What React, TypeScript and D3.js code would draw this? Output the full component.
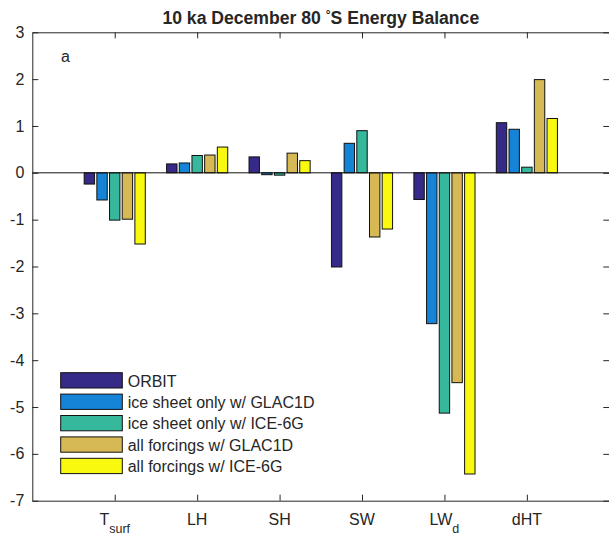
import * as d3 from "d3";
import React, { useEffect, useRef } from "react";

// categories on the x axis (main text + subscript)
const categories = ["T", "LH", "SH", "SW", "LW", "dHT"];
const categorySubs = ["surf", "", "", "", "d", ""];

const seriesNames = [
  "ORBIT",
  "ice sheet only w/ GLAC1D",
  "ice sheet only w/ ICE-6G",
  "all forcings w/ GLAC1D",
  "all forcings w/ ICE-6G",
];
const seriesColors = ["#352a87", "#1584d6", "#35b89c", "#d6b855", "#f8f90f"];

// values, one array per series
const orbit = [-0.24, 0.19, 0.34, -2.01, -0.57, 1.07];
const glac1d = [-0.58, 0.21, -0.04, 0.63, -3.22, 0.93];
const ice6g = [-1.01, 0.37, -0.05, 0.9, -5.13, 0.12];
const allGlac1d = [-0.99, 0.38, 0.42, -1.37, -4.48, 1.99];
const allIce6g = [-1.52, 0.55, 0.26, -1.2, -6.43, 1.16];
const seriesValues = [orbit, glac1d, ice6g, allGlac1d, allIce6g];

const yTicks = [3, 2, 1, 0, -1, -2, -3, -4, -5, -6, -7];

const FONT = "'Liberation Sans', Arial, Helvetica, sans-serif";
const INK = "#262626";

const EnergyBalanceChart: React.FC = () => {
  const svgRef = useRef<SVGSVGElement>(null);

  useEffect(() => {
    if (!svgRef.current) return;
    const width = 609;
    const height = 536;
    const left = 32.3;
    const right = 609.3;
    const top = 32.3;
    const bottom = 500.7;

    const svg = d3.select(svgRef.current);
    svg.selectAll("*").remove();
    svg.attr("width", width).attr("height", height).style("display", "block");

    const x = d3.scaleLinear().domain([0, 7]).range([left, right]);
    const y = d3.scaleLinear().domain([-7, 3]).range([bottom, top]);

    // grouped bar geometry (matlab style: 5 bars per group)
    const nSeries = seriesValues.length;
    const groupWidth = Math.min(0.8, nSeries / (nSeries + 1.5));
    const slot = groupWidth / nSeries;
    const barW = slot * 0.82;

    seriesValues.forEach((vals, si) => {
      svg
        .append("g")
        .selectAll("rect")
        .data(vals)
        .join("rect")
        .attr("x", (_, ci) => x(ci + 1 + (si - (nSeries - 1) / 2) * slot - barW / 2))
        .attr("width", x(barW) - x(0))
        .attr("y", (d) => y(Math.max(0, d)))
        .attr("height", (d) => Math.abs(y(d) - y(0)))
        .attr("fill", seriesColors[si])
        .attr("stroke", "#111")
        .attr("stroke-width", 1);
    });

    // zero baseline
    svg
      .append("line")
      .attr("x1", left)
      .attr("x2", right)
      .attr("y1", y(0))
      .attr("y2", y(0))
      .attr("stroke", "#111")
      .attr("stroke-width", 1);

    const catTicks = d3.range(1, categories.length + 1);

    // axes with inward ticks on all four sides
    const gLeft = svg
      .append("g")
      .attr("transform", `translate(${left},0)`)
      .call(
        d3
          .axisLeft(y)
          .tickValues(yTicks)
          .tickSizeInner(-6)
          .tickSizeOuter(0)
          .tickPadding(8)
          .tickFormat((d) => String(d)),
      );
    const gRight = svg
      .append("g")
      .attr("transform", `translate(${right},0)`)
      .call(d3.axisRight(y).tickValues(yTicks).tickSizeInner(-6).tickSizeOuter(0).tickFormat(() => ""));
    const gBottom = svg
      .append("g")
      .attr("transform", `translate(0,${bottom})`)
      .call(d3.axisBottom(x).tickValues(catTicks).tickSizeInner(-6).tickSizeOuter(0).tickFormat(() => ""));
    const gTop = svg
      .append("g")
      .attr("transform", `translate(0,${top})`)
      .call(d3.axisTop(x).tickValues(catTicks).tickSizeInner(-6).tickSizeOuter(0).tickFormat(() => ""));

    [gLeft, gRight, gBottom, gTop].forEach((g) => {
      g.select(".domain").attr("stroke", INK).attr("stroke-width", 1);
      g.selectAll(".tick line").attr("stroke", INK);
      g.selectAll(".tick text")
        .attr("fill", INK)
        .style("font-family", FONT)
        .style("font-size", "16px");
    });

    // category labels with subscripts
    categories.forEach((c, i) => {
      const t = svg
        .append("text")
        .attr("x", x(i + 1))
        .attr("y", 525)
        .attr("text-anchor", "middle")
        .attr("fill", INK)
        .style("font-family", FONT)
        .style("font-size", "16px")
        .text(c);
      if (categorySubs[i]) {
        t.append("tspan").attr("dy", 7.5).style("font-size", "12.5px").text(categorySubs[i]);
      }
    });

    // title
    const title = svg
      .append("text")
      .attr("x", (left + right) / 2)
      .attr("y", 24)
      .attr("text-anchor", "middle")
      .attr("fill", INK)
      .style("font-family", FONT)
      .style("font-size", "17.6px")
      .style("font-weight", "bold");
    title.append("tspan").text("10 ka December 80 ");
    title.append("tspan").attr("dy", -5).style("font-size", "12px").text("°");
    title.append("tspan").attr("dy", 5).text("S Energy Balance");

    // panel letter
    svg
      .append("text")
      .attr("x", 61)
      .attr("y", 61.5)
      .attr("fill", INK)
      .style("font-family", FONT)
      .style("font-size", "16px")
      .text("a");

    // legend
    const legend = svg.append("g").attr("transform", "translate(60.7,372.7)");
    seriesNames.forEach((name, i) => {
      const row = legend.append("g").attr("transform", `translate(0,${i * 21.4})`);
      row
        .append("rect")
        .attr("width", 61.6)
        .attr("height", 15.3)
        .attr("fill", seriesColors[i])
        .attr("stroke", "#111")
        .attr("stroke-width", 1);
      row
        .append("text")
        .attr("x", 67)
        .attr("y", 13.8)
        .attr("fill", INK)
        .style("font-family", FONT)
        .style("font-size", "16px")
        .text(name);
    });
  }, []);

  return <svg ref={svgRef} />;
};

export default function App() {
  return (
    <>
      <style>{"body{margin:0;background:#fff}"}</style>
      <EnergyBalanceChart />
    </>
  );
}
